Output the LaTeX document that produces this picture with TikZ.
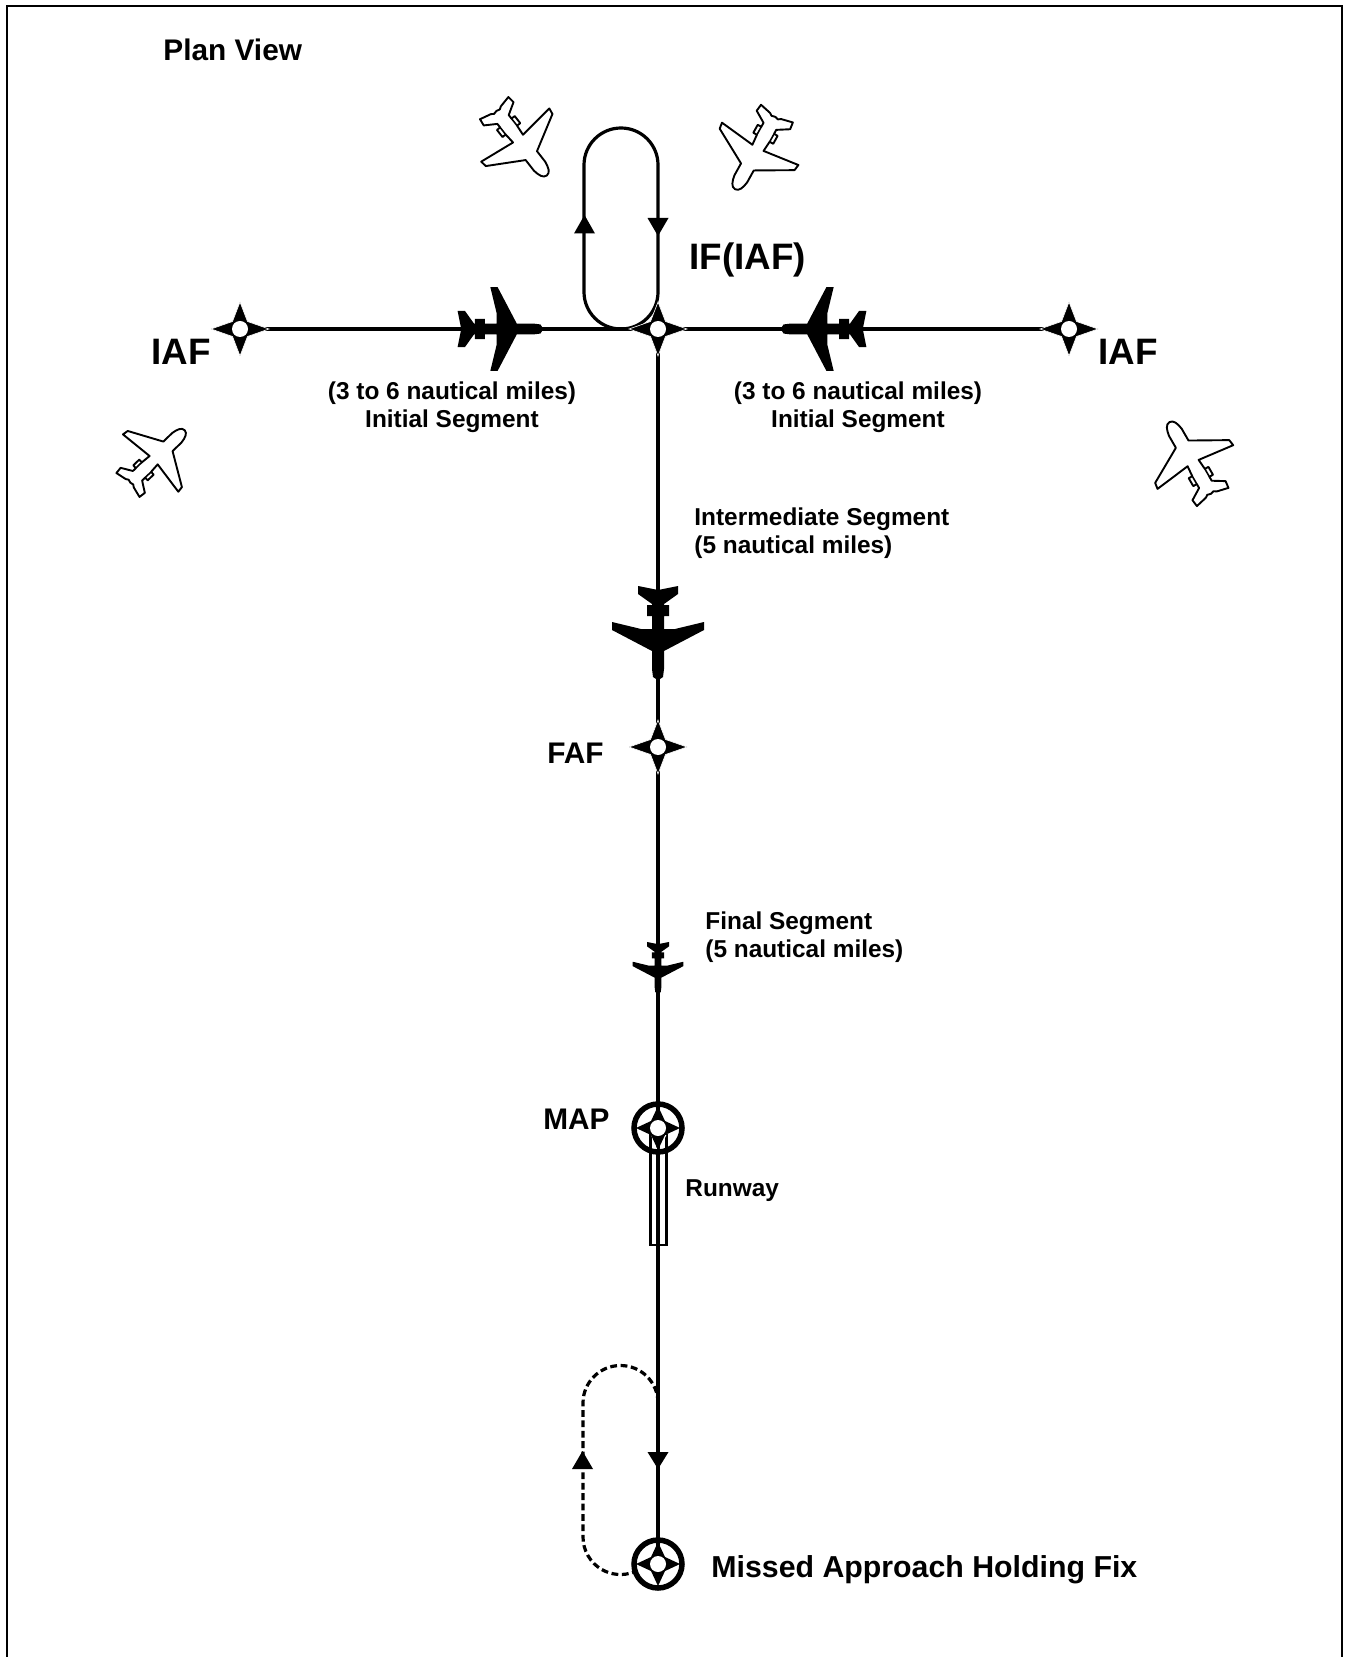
\documentclass[tikz,border=0pt]{standalone}
\usepackage{fontspec}
\setmainfont{Liberation Sans}
\tikzset{
  x=0.5pt,y=-0.5pt,
  route/.style={line width=1.6pt,line join=round},
  framing/.style={line width=1.45pt,line cap=butt,line join=miter},
  holddash/.style={line width=1.6pt,dash pattern=on 3.4pt off 1.8pt},
  tipfill/.style={fill=black,draw=none},
  bigtxt/.style={font=\fontsize{18.4}{20}\selectfont\bfseries,inner sep=0pt},
  midtxt/.style={font=\fontsize{12.2}{14.1}\selectfont\bfseries,inner sep=0pt},
  planetxt/.style={font=\fontsize{14.9}{16}\selectfont\bfseries,inner sep=0pt},
  fixtxt/.style={font=\fontsize{15.15}{18}\selectfont\bfseries,inner sep=0pt},
  planeshape/.pic={
    \path[pic actions]
      (0,-47)--(-20,-51)--(-20,-43)--(-6,-33)--(-6,-32)--(-11,-32)--(-11,-21)--(-6,-21)
      --(-6,-8)--(-17,-8)--(-46,-15)--(-46,-7)--(-6,14)--(-6,32)--(-5,40)--(-2,42)
      --(2,42)--(5,40)--(6,32)--(6,14)--(46,-7)--(46,-15)--(17,-8)--(6,-8)--(6,-21)--(11,-21)--(11,-32)
      --(6,-32)--(6,-33)--(20,-43)--(20,-51)--cycle;
  },
  outlineshape/.pic={
    \path[pic actions]
      (0,-48)--(-4,-47)--(-7,-49)--(-20,-52)--(-21,-44)--(-8,-36)--(-8,-31)--(-12.5,-31)--(-12.5,-21)--(-8,-21)
      --(-7,-9)--(-48,-14)--(-47,-7)--(-8,15)--(-8,30)
      .. controls (-7,37) and (-5,43) .. (0,43)
      .. controls (5,43) and (7,37) .. (8,30)
      --(8,15)--(47,-7)--(48,-14)--(7,-9)--(8,-21)--(12.5,-21)--(12.5,-31)--(8,-31)
      --(8,-36)--(21,-44)--(20,-52)--(7,-49)--(4,-47)--cycle;
    \draw[black,line width=0.8pt] (-8,-31)--(-8,-21) (8,-31)--(8,-21);
  },
  blackplane/.style={fill=black,draw=none},
  whiteplane/.style={fill=white,draw=black,line width=0.95pt,line join=round},
  fixstar/.pic={
    \fill[black,draw=white,line width=0.3pt]
      (-29,0)--(-7.5,-7.5)--(0,-27)--(7.5,-7.5)--(29,0)--(7.5,7.5)--(0,27)--(-7.5,7.5)--cycle;
    \fill[white] (0,0) circle[radius=8];
  },
  ringstar/.pic={
    \fill[black]
      (-22,0)--(-7,-7)--(0,-22)--(7,-7)--(22,0)--(7,7)--(0,22)--(-7,7)--cycle;
    \fill[white] (0,0) circle[radius=8];
  },
  fixring/.style={draw=black,line width=2.75pt,fill=none},
  halo/.style={draw=white,line width=0.6pt},
  runwaybox/.style={draw=black,line width=1.3pt,fill=none},
}
\begin{document}
\begin{tikzpicture}
\useasboundingbox (0,0) rectangle (1348,1657);
\fill[white] (0,0) rectangle (1348,1657);
\coordinate (fl) at (7,1657);
\coordinate (ftl) at (7,6);
\coordinate (ftr) at (1342,6);
\coordinate (fr) at (1342,1657);
\draw[framing] (fl)--(ftl)--(ftr)--(fr);

\coordinate (iafL) at (240,329);
\coordinate (if) at (658,329);
\coordinate (iafR) at (1069,329);
\coordinate (faf) at (658,747);
\coordinate (map) at (658,1128);
\coordinate (mahf) at (658,1564);

% runway
\draw[runwaybox] (650.7,1135) rectangle (666.7,1245);

% connectors
\draw[route] (iafL)--(iafR);
\draw[route] (if)--(mahf);

% holding pattern at IF
\draw[route] (658,292)--(658,165) arc[start angle=0,end angle=-180,radius=37]
  --(584,292) arc[start angle=180,end angle=0,radius=37];
\fill[tipfill] (584.5,215)--(574,233.5)--(595,233.5)--cycle;
\fill[tipfill] (658,236)--(647.5,218)--(668.5,218)--cycle;

% missed approach hold
\draw[holddash] (658,1403) arc[start angle=0,end angle=-180,radius=37.5]
  --(583,1537) arc[start angle=180,end angle=70,radius=37.5];
\fill[tipfill] (582.5,1451)--(572,1469)--(593,1469)--cycle;
\fill[tipfill] (658,1469)--(647.5,1452)--(668.5,1452)--cycle;

% halo around the star at the head of the runway
\draw[halo] (651.7,1135) .. controls (654,1140) and (656,1147) .. (657.3,1153);
\draw[halo] (665.7,1135) .. controls (663,1140) and (661,1147) .. (659.3,1153);

% fixes
\pic at (iafL) {fixstar};
\pic at (if) {fixstar};
\pic at (iafR) {fixstar};
\pic at (faf) {fixstar};
\pic at (map) {ringstar};
\pic at (mahf) {ringstar};
\draw[fixring] (map) circle[radius=24];
\draw[fixring] (mahf) circle[radius=24];

% black aircraft
\pic[blackplane,rotate=90,scale=0.91] at (504,329) {planeshape};
\pic[blackplane,rotate=-90,scale=0.91] at (820,329) {planeshape};
\pic[blackplane] at (658,637) {planeshape};
\pic[blackplane,scale=0.55] at (658,970) {planeshape};

% outlined aircraft
\pic[whiteplane,rotate=38,scale=0.9] at (523,145) {outlineshape};
\pic[whiteplane,rotate=-29,scale=0.91] at (754,155) {outlineshape};
\pic[whiteplane,rotate=134,scale=0.83] at (159,455) {outlineshape};
\pic[whiteplane,rotate=210,scale=0.91] at (1189,456) {outlineshape};

% labels
\node[planetxt,anchor=base west] (planview) at (163,61) {Plan View};
\node[bigtxt,anchor=base west] (ifiaf) at (689,270) {IF(IAF)};
\node[bigtxt,anchor=base west] (iaflbl) at (151,365) {IAF};
\node[bigtxt,anchor=base west] (iafrbl) at (1098,365) {IAF};
\node[midtxt,align=center] (initL) at (452,407) {(3 to 6 nautical miles)\\Initial Segment};
\node[midtxt,align=center] (initR) at (858,407) {(3 to 6 nautical miles)\\Initial Segment};
\node[midtxt,align=left,anchor=west] (inter) at (694,533.5) {Intermediate Segment\\(5 nautical miles)};
\node[midtxt,align=left,anchor=west] (final) at (705,937) {Final Segment\\(5 nautical miles)};
\node[planetxt,anchor=base west] (faflbl) at (547,763) {FAF};
\node[planetxt,anchor=base west] (maplbl) at (543,1129) {MAP};
\node[midtxt,anchor=base west] (rwy) at (685,1196) {Runway};
\node[fixtxt,anchor=base west] (mahflbl) at (711,1577) {Missed Approach Holding Fix};
\end{tikzpicture}
\end{document}
